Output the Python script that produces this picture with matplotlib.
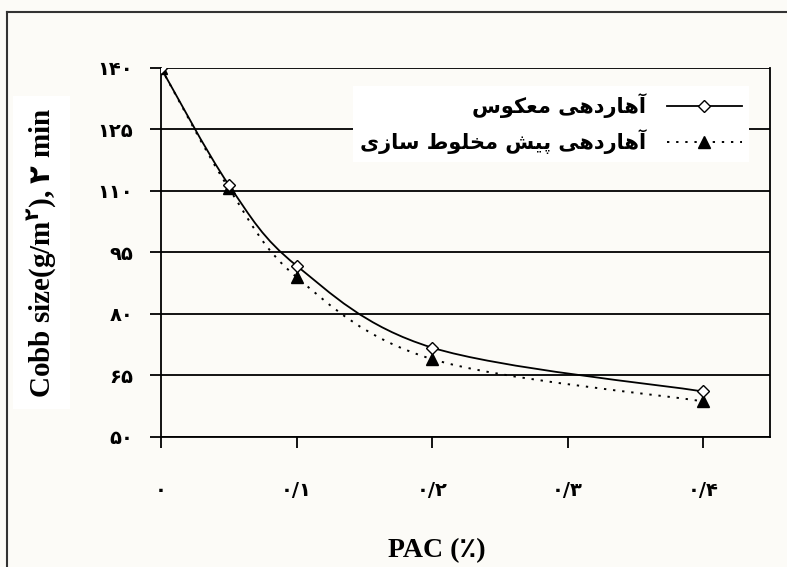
import matplotlib
matplotlib.use("Agg")
import matplotlib.pyplot as plt
from matplotlib.path import Path
from matplotlib.patches import PathPatch
from matplotlib.lines import Line2D
import numpy as np

# ---------------- data ----------------
pac = [0.0, 0.05, 0.1, 0.2, 0.4]
reverse_sizing = [140, 111.5, 91.8, 71.8, 61.1]      # آهاردهی معکوس
premix_sizing = [140, 110.7, 89.0, 69.0, 58.7]       # آهاردهی پیش مخلوط سازی
series_labels = ["آهاردهی معکوس", "آهاردهی پیش مخلوط سازی"]
x_ticks = [0.0, 0.1, 0.2, 0.3, 0.4]
x_ticklabels = ["۰", "۰/۱", "۰/۲", "۰/۳", "۰/۴"]
y_ticks = [50, 65, 80, 95, 110, 125, 140]
y_ticklabels = ["۵۰", "۶۵", "۸۰", "۹۵", "۱۱۰", "۱۲۵", "۱۴۰"]
x_label = "PAC (٪)"
y_label = "Cobb size(g/m$^{۲}$), $۲$ min"

# ------------- minimal Persian shaping (presentation forms, visual order) -------------
FORMS = {
    'آ': (0xFE81, 0xFE82, None, None), 'ا': (0xFE8D, 0xFE8E, None, None),
    'ر': (0xFEAD, 0xFEAE, None, None), 'د': (0xFEA9, 0xFEAA, None, None),
    'ز': (0xFEAF, 0xFEB0, None, None), 'و': (0xFEED, 0xFEEE, None, None),
    'ه': (0xFEE9, 0xFEEA, 0xFEEB, 0xFEEC), 'ی': (0xFBFC, 0xFBFD, 0xFBFE, 0xFBFF),
    'م': (0xFEE1, 0xFEE2, 0xFEE3, 0xFEE4), 'ع': (0xFEC9, 0xFECA, 0xFECB, 0xFECC),
    'ک': (0xFB8E, 0xFB8F, 0xFB90, 0xFB91), 'س': (0xFEB1, 0xFEB2, 0xFEB3, 0xFEB4),
    'پ': (0xFB56, 0xFB57, 0xFB58, 0xFB59), 'ش': (0xFEB5, 0xFEB6, 0xFEB7, 0xFEB8),
    'خ': (0xFEA5, 0xFEA6, 0xFEA7, 0xFEA8), 'ل': (0xFEDD, 0xFEDE, 0xFEDF, 0xFEE0),
    'ط': (0xFEC1, 0xFEC2, 0xFEC3, 0xFEC4),
}

def dual(c):
    return c in FORMS and FORMS[c][2] is not None

def shape(s):
    out = []
    for i, c in enumerate(s):
        if c not in FORMS:
            out.append(c)
            continue
        prev_j = i > 0 and dual(s[i - 1])
        next_j = i + 1 < len(s) and s[i + 1] in FORMS and dual(c)
        iso, fin, ini, med = FORMS[c]
        if prev_j and next_j:
            cp = med
        elif prev_j:
            cp = fin
        elif next_j:
            cp = ini
        else:
            cp = iso
        out.append(chr(cp))
    return "".join(reversed(out))

# ---------------- figure ----------------
plt.rcParams['mathtext.fontset'] = 'custom'
plt.rcParams['mathtext.rm'] = 'DejaVu Sans:bold'
plt.rcParams['mathtext.it'] = 'DejaVu Sans:bold'
plt.rcParams['mathtext.bf'] = 'DejaVu Sans:bold'

bg = "#fcfbf7"
fig = plt.figure(figsize=(7.87, 5.67), dpi=100, facecolor=bg)
ax = fig.add_axes([161/787, 1-437/567, (770-161)/787, (437-68)/567])
ax.set_facecolor(bg)

ax.set_xlim(0, 0.4494)
ax.set_ylim(50, 140)

for yv in y_ticks:
    ax.axhline(yv, color="black", lw=1.3, zorder=1)

def smooth_path(xs, ys):
    pts = np.column_stack([xs, ys]).astype(float)
    n = len(pts)
    verts = [pts[0]]
    codes = [Path.MOVETO]
    for i in range(n - 1):
        p0 = pts[i - 1] if i > 0 else pts[i]
        p1 = pts[i]
        p2 = pts[i + 1]
        p3 = pts[i + 2] if i + 2 < n else pts[i + 1]
        c1 = p1 + (p2 - p0) / 6.0
        c2 = p2 - (p3 - p1) / 6.0
        verts += [c1, c2, p2]
        codes += [Path.CURVE4] * 3
    return Path(verts, codes)

ax.add_patch(PathPatch(smooth_path(pac, reverse_sizing), fill=False, ec="black",
                       lw=1.3, ls="-", zorder=3, transform=ax.transData))
ax.add_patch(PathPatch(smooth_path(pac, premix_sizing), fill=False, ec="black",
                       lw=1.4, ls=(0, (1.2, 3.5)), zorder=3, transform=ax.transData))

ax.plot(pac, premix_sizing, ls="none", marker="^", ms=9, mfc="black", mec="black", zorder=4)
ax.plot(pac, reverse_sizing, ls="none", marker="D", ms=6, mfc="white", mec="black",
        mew=1.0, zorder=5)

h1 = Line2D([], [], color="black", lw=1.3, marker="D", ms=6, mfc="white", mec="black", mew=1.0)
h2 = Line2D([], [], color="black", lw=1.4, ls=(0, (1.2, 3.5)), marker="^", ms=9,
            mfc="black", mec="black")
leg = ax.legend([h1, h2], [shape(s) for s in series_labels], markerfirst=False,
                loc="upper right", bbox_to_anchor=(0.983, 0.98), frameon=True,
                facecolor="white", edgecolor="none", framealpha=1, fancybox=False,
                handlelength=3.6, handletextpad=1.0, labelspacing=0.55, borderpad=0.35,
                prop={"family": "DejaVu Sans", "weight": "bold", "size": 15})
leg.set_zorder(6)

ax.set_xticks(x_ticks)
ax.set_xticklabels(x_ticklabels, family="DejaVu Sans", fontweight="bold", fontsize=14)
ax.set_yticks(y_ticks)
ax.set_yticklabels(y_ticklabels, family="DejaVu Sans", fontweight="bold", fontsize=14)
ax.tick_params(axis="both", direction="out", length=8, width=1.3, color="black")
ax.tick_params(axis="x", pad=24)
ax.tick_params(axis="y", pad=12)

for side in ["left", "bottom", "right"]:
    ax.spines[side].set_linewidth(1.3)
ax.spines["top"].set_visible(False)

ax.set_xlabel(x_label, family=["Liberation Serif", "DejaVu Sans"], fontweight="bold",
              fontsize=20)
ax.xaxis.set_label_coords(0.453, -0.275)
ax.set_ylabel(y_label, family=["Liberation Serif", "DejaVu Sans"], fontweight="bold",
              fontsize=21, labelpad=28,
              bbox=dict(facecolor="white", edgecolor="none", pad=8))

# outer frame
fig.add_artist(Line2D([7/787, 7/787], [0, 1-12/567], transform=fig.transFigure,
                      color="#333333", lw=1.5))
fig.add_artist(Line2D([7/787, 1], [1-12/567, 1-12/567], transform=fig.transFigure,
                      color="#333333", lw=1.5))

fig.savefig("out.png", dpi=100, facecolor=bg)
